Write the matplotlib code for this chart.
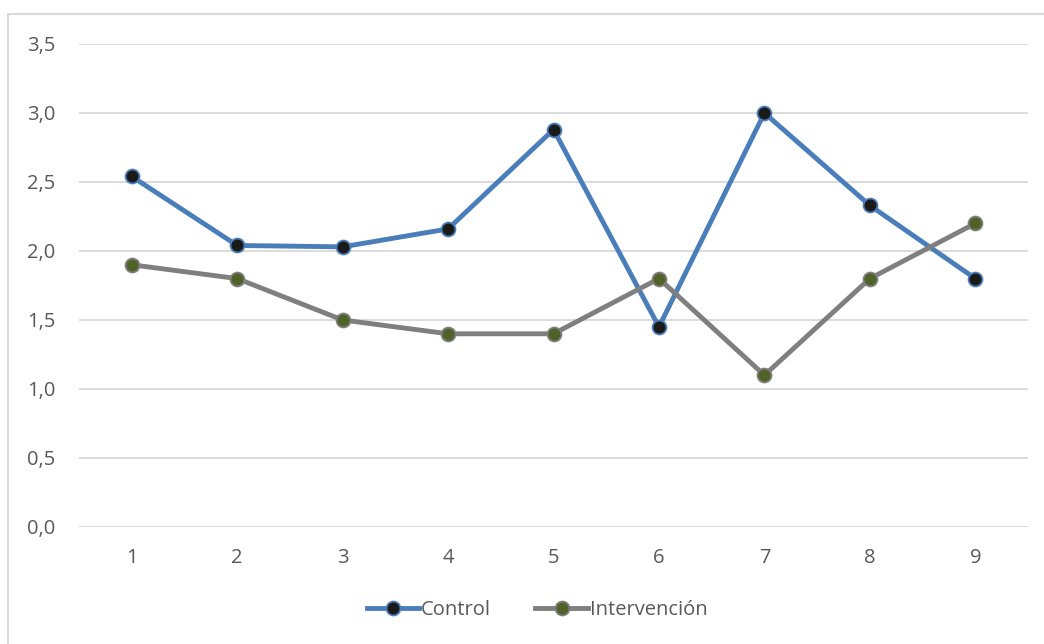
import matplotlib.pyplot as plt
from matplotlib.patches import Rectangle
from matplotlib.ticker import FuncFormatter

# Series data
sessions = [1, 2, 3, 4, 5, 6, 7, 8, 9]
control = [2.54, 2.04, 2.03, 2.16, 2.88, 1.45, 3.00, 2.33, 1.80]
intervencion = [1.90, 1.80, 1.50, 1.40, 1.40, 1.80, 1.10, 1.80, 2.20]
y_ticks = [0.0, 0.5, 1.0, 1.5, 2.0, 2.5, 3.0, 3.5]

plt.rcParams['font.family'] = ['Open Sans', 'DejaVu Sans']

fig = plt.figure(figsize=(10.44, 6.44), dpi=100)
ax = fig.add_axes([0.0757, 0.1817, 0.909, 0.75])

# outer chart frame
fig.patches.append(Rectangle((8 / 1044, -0.1), 1.2, 1 - 14 / 644 + 0.1,
                             transform=fig.transFigure, fill=False,
                             edgecolor='#d9d9d9', linewidth=1.5))

blue = '#4a7ebb'
gray = '#7f7f7f'
ax.plot(sessions, control, color=blue, linewidth=3.5, marker='o',
        markersize=10, markerfacecolor='#1a1a1a', markeredgecolor=blue,
        markeredgewidth=1.3, label='Control', zorder=3)
ax.plot(sessions, intervencion, color=gray, linewidth=3.5, marker='o',
        markersize=10, markerfacecolor='#4f6228', markeredgecolor=gray,
        markeredgewidth=1.3, label='Intervención', zorder=3)

ax.set_xlim(0.5, 9.5)
ax.set_ylim(0, 3.5)
ax.set_xticks(sessions)
ax.set_yticks(y_ticks)
ax.yaxis.set_major_formatter(FuncFormatter(lambda v, _: f'{v:.1f}'.replace('.', ',')))
ax.tick_params(length=0, labelsize=14.5, labelcolor='#595959')
ax.tick_params(axis='y', pad=17)
ax.tick_params(axis='x', pad=15)
ax.grid(axis='y', color='#d9d9d9', linewidth=1.3)
ax.set_axisbelow(True)
for s in ax.spines.values():
    s.set_visible(False)

fig.legend(loc='center', bbox_to_anchor=(537 / 1044, 1 - 610 / 644), ncol=2,
           frameon=False, fontsize=14.5, labelcolor='#595959',
           handlelength=2.6, handletextpad=0.1, columnspacing=2.2)

fig.savefig('out.png', dpi=100)
